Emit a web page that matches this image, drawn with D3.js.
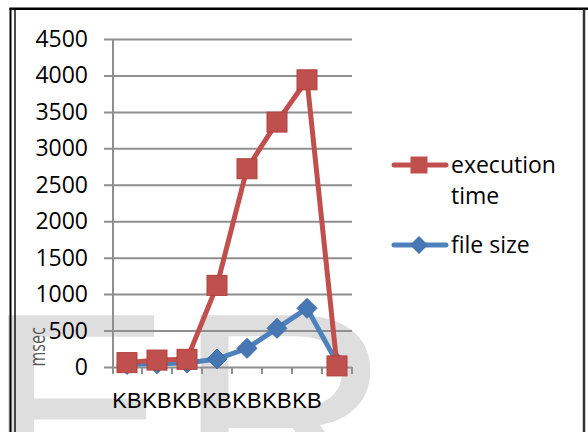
<!DOCTYPE html>
<html>
<head>
<meta charset="utf-8">
<script src="https://cdn.jsdelivr.net/npm/d3@7"></script>
<style>
  html, body { margin: 0; padding: 0; background: #fff; }
  svg { display: block; }
  text { font-family: "Open Sans", "Liberation Sans", sans-serif; }
</style>
</head>
<body>
<svg id="chart" width="588" height="432"></svg>
<script>
// Series data
const categories = ["c1", "c2", "c3", "c4", "c5", "c6", "c7", "c8"];
const categoryLabels = ["KB", "KB", "KB", "KB", "KB", "KB", "KB", ""];
const executionTime = [60, 95, 105, 1120, 2720, 3360, 3940, 15];
const fileSize = [35, 45, 55, 110, 256, 530, 805, 60];
const yTicks = [0, 500, 1000, 1500, 2000, 2500, 3000, 3500, 4000, 4500];

const svg = d3.select("#chart");
const W = 588, H = 432;

// Plot area
const plot = { left: 112, right: 352, top: 39, bottom: 367 };

const x = d3.scaleBand().domain(categories).range([plot.left, plot.right]).padding(0);
const y = d3.scaleLinear().domain([0, 4500]).range([plot.bottom, plot.top]);

// Faint watermark letters behind the chart
const wm = svg.append("g").attr("fill", "#dedede");
wm.append("text").attr("x", -15).attr("y", 508)
  .style("font-family", "'Liberation Sans', Arial, sans-serif").style("font-size", "280px").text("E");
wm.append("text").attr("transform", "translate(176,508) scale(1.07,1)")
  .style("font-family", "'Liberation Sans', Arial, sans-serif").style("font-size", "280px").text("R");

// Horizontal gridlines with left tick stubs
const gy = svg.append("g").attr("transform", `translate(${plot.right},0)`).call(
  d3.axisLeft(y).tickValues(yTicks).tickSize(plot.right - 104).tickFormat("")
);
gy.select(".domain").remove();
gy.selectAll(".tick line").attr("stroke", "#8f8f8f").attr("stroke-width", 2);

// Y tick labels
svg.append("g").selectAll("text").data(yTicks).join("text")
  .attr("x", 88)
  .attr("y", d => y(d) + 8)
  .attr("text-anchor", "end")
  .attr("fill", "#000")
  .style("font-size", "23px")
  .text(d => d);

// Vertical axis line
svg.append("line")
  .attr("x1", plot.left + 1).attr("x2", plot.left + 1)
  .attr("y1", plot.top).attr("y2", plot.bottom + 7)
  .attr("stroke", "#8f8f8f").attr("stroke-width", 2);

// Category boundary ticks on the x axis
const bounds = categories.map(c => x(c)).concat([plot.right]);
svg.append("g").selectAll("line").data(bounds.slice(1)).join("line")
  .attr("x1", d => d).attr("x2", d => d)
  .attr("y1", plot.bottom).attr("y2", plot.bottom + 7)
  .attr("stroke", "#8f8f8f").attr("stroke-width", 2);

// Category labels
const gx = svg.append("g").attr("transform", `translate(0,${plot.bottom})`).call(
  d3.axisBottom(x).tickSize(0).tickPadding(0).tickFormat((d, i) => categoryLabels[i])
);
gx.select(".domain").remove();
gx.selectAll("text")
  .attr("y", 41).attr("dy", null)
  .attr("fill", "#000")
  .style("font-family", "'Liberation Sans', Arial, sans-serif")
  .style("font-size", "22px");

// Axis title
svg.append("text")
  .attr("transform", "translate(45,347) rotate(-90) scale(1,1.35)")
  .attr("text-anchor", "middle")
  .attr("fill", "#595959")
  .style("font-size", "16px")
  .text("msec");

const cx = (d, i) => x(categories[i]) + x.bandwidth() / 2;
const line = d3.line().x((d, i) => cx(d, i)).y(d => y(d));

const blue = "#4F81BD", blueDark = "#3f6ea8";
const red = "#C0504D", redDark = "#b0403d";

// File size series
svg.append("path").datum(fileSize)
  .attr("d", line).attr("fill", "none")
  .attr("stroke", blue).attr("stroke-width", 5).attr("stroke-linejoin", "round");
const diamond = s => `M0,${-s}L${s},0L0,${s}L${-s},0Z`;
svg.append("g").selectAll("path").data(fileSize).join("path")
  .attr("transform", (d, i) => `translate(${cx(d, i)},${y(d)})`)
  .attr("d", diamond(10))
  .attr("fill", "#4677b3").attr("stroke", blueDark).attr("stroke-width", 1);

// Execution time series
svg.append("path").datum(executionTime)
  .attr("d", line).attr("fill", "none")
  .attr("stroke", red).attr("stroke-width", 5).attr("stroke-linejoin", "round");
svg.append("g").selectAll("rect").data(executionTime).join("rect")
  .attr("x", (d, i) => cx(d, i) - 10).attr("y", d => y(d) - 10)
  .attr("width", 20).attr("height", 20)
  .attr("fill", red).attr("stroke", redDark).attr("stroke-width", 1);

// Legend
const legend = svg.append("g");
const lg1 = legend.append("g").attr("transform", "translate(0,165)");
lg1.append("line").attr("x1", 394).attr("x2", 446).attr("stroke", red).attr("stroke-width", 5).attr("stroke-linecap", "round");
lg1.append("rect").attr("x", 410.5).attr("y", -8.5).attr("width", 17).attr("height", 17).attr("fill", red);
const t1 = lg1.append("text").attr("x", 451).attr("y", 8).attr("fill", "#000").style("font-size", "23px");
t1.append("tspan").attr("x", 451).attr("dy", 0).text("execution");
t1.append("tspan").attr("x", 451).attr("dy", 31).text("time");

const lg2 = legend.append("g").attr("transform", "translate(0,245)");
lg2.append("line").attr("x1", 394).attr("x2", 446).attr("stroke", blue).attr("stroke-width", 5).attr("stroke-linecap", "round");
lg2.append("path").attr("transform", "translate(419,0)").attr("d", diamond(9)).attr("fill", "#4677b3");
lg2.append("text").attr("x", 451).attr("y", 8).attr("fill", "#000").style("font-size", "23px").text("file size");

// Frame
const frame = svg.append("g").attr("fill", "none");
frame.append("line").attr("x1", 9.5).attr("x2", W).attr("y1", 8.75).attr("y2", 8.75).attr("stroke", "#000").attr("stroke-width", 2.5);
frame.append("line").attr("x1", 10.5).attr("x2", 10.5).attr("y1", 8).attr("y2", H).attr("stroke", "#000").attr("stroke-width", 2);
frame.append("line").attr("x1", 15).attr("x2", 15).attr("y1", 10).attr("y2", H).attr("stroke", "#111").attr("stroke-width", 1.5);
frame.append("line").attr("x1", 584).attr("x2", 584).attr("y1", 9).attr("y2", H).attr("stroke", "#333").attr("stroke-width", 2.5);
</script>
</body>
</html>
